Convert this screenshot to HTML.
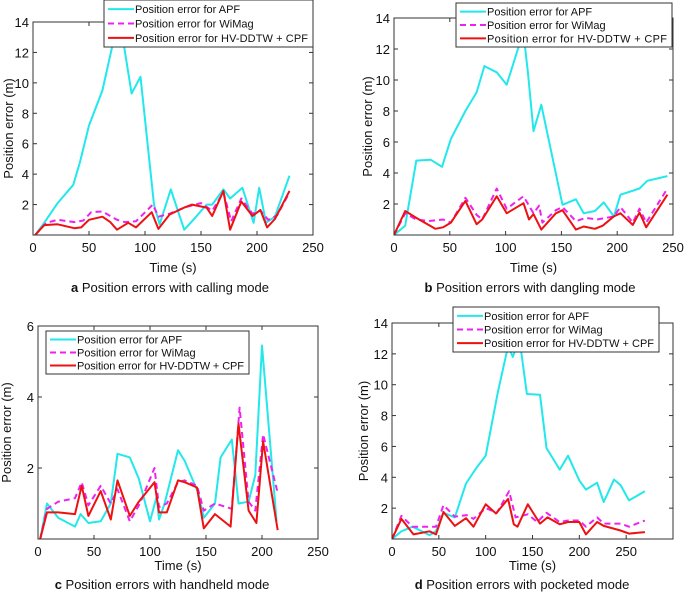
<!DOCTYPE html>
<html><head><meta charset="utf-8"><style>
html,body{margin:0;padding:0;background:#fff;}
svg{display:block;font-family:"Liberation Sans",Arial,sans-serif;}
</style></head><body>
<svg id="fig" width="685" height="593" viewBox="0 0 685 593"></svg>
<script>
const aApfT=[2,10,22,36,42,50,62,75,80,88,96,108,113,123,135,142,155,160,170,176,187,197,202,208,216,229];
const aApfE=[0,0.8,2.1,3.3,4.8,7.2,9.5,13.8,13,9.3,10.4,2,0.7,3,0.35,0.9,2,2,3,2.4,3.1,0.8,3.1,0.8,1.2,3.9];
const aWiT=[2,12,22,37,45,52,62,75,82,92,107,112,122,135,150,160,170,177,186,196,203,210,218,229];
const aWiE=[0,0.8,1,0.85,0.95,1.5,1.55,1,0.85,0.9,2,1.2,1.4,1.8,2.1,1.6,2.8,0.9,2.4,1.4,1.6,1,1.3,2.8];
const aHvT=[2,10,22,37,43,50,62,69,75,85,92,106,112,122,135,142,155,160,170,176,186,196,203,209,216,229];
const aHvE=[0,0.65,0.7,0.45,0.5,1,1.2,0.85,0.35,0.8,0.5,1.5,0.4,1.35,1.8,2,1.8,1.25,2.9,0.35,2.2,1.25,1.65,0.5,1.05,2.9];

const bApfT=[0,10,20,33,43,51,64,74,81,92,101,111,116,120,125,132,151,163,170,180,188,197,203,220,227,245];
const bApfE=[0,0.6,4.8,4.85,4.4,6.2,8,9.2,10.9,10.5,9.7,12,13,10.5,6.7,8.4,1.95,2.3,1.4,1.55,2.1,1.2,2.6,3,3.5,3.8];
const bWiT=[0,10,20,31,44,51,64,74,79,92,101,116,125,130,133,145,151,163,172,182,197,203,214,220,226,245];
const bWiE=[0,1.4,1,0.9,1,0.8,2.4,1.3,1,3,1.7,2.5,1.4,1.9,0.8,1.6,1.8,0.9,1.1,1,1.2,1.8,0.8,1.7,0.8,3];
const bHvT=[0,10,20,37,44,51,64,74,79,92,101,116,121,125,132,145,151,163,170,180,187,197,203,214,220,226,245];
const bHvE=[0,1.55,1.1,0.4,0.5,0.8,2.2,0.7,1,2.5,1.4,2.05,1,1.35,0.35,1.4,1.6,0.35,0.55,0.4,0.6,1.2,1.4,0.65,1.45,0.5,2.6];

const cApfT=[2,8,18,33,38,45,56,65,71,82,90,100,106,108,113,125,131,143,148,158,163,173,179,188,194,200,213];
const cApfE=[0,1,0.6,0.35,0.7,0.45,0.5,1,2.4,2.3,1.7,0.5,1.2,0.55,1,2.5,2.2,1.3,0.6,1,2.3,2.8,1,1.05,1.8,5.45,0.5];
const cWiT=[2,8,18,33,39,45,56,65,71,82,91,104,108,115,125,131,142,148,158,173,180,188,194,201,214];
const cWiE=[0,0.85,1.05,1.15,1.6,0.95,1.5,1,1.4,0.5,1,2,0.9,1,1.6,1.65,1.5,0.8,1,0.85,3.7,1.05,0.8,2.95,1.3];
const cHvT=[2,8,18,33,39,45,56,65,71,82,90,104,108,115,125,131,142,148,158,172,179,188,195,201,214];
const cHvE=[0,0.75,0.75,0.7,1.5,0.65,1.35,0.55,1.65,0.65,1.05,1.6,0.75,0.75,1.65,1.6,1.45,0.3,0.7,0.35,3.25,0.8,0.45,2.75,0.25];

const dApfT=[0,10,22,35,40,47,55,67,79,90,100,113,124,129,136,144,158,165,179,188,200,207,219,226,237,244,253,270];
const dApfE=[0,0.5,0.8,0.4,0.25,0.5,1.7,1.4,3.6,4.6,5.4,9.5,12.5,11.8,13,9.4,9.35,5.9,4.5,5.4,3.8,3.2,3.65,2.4,3.85,3.5,2.5,3.1];
const dWiT=[0,10,22,40,47,55,67,80,87,100,112,125,132,145,155,165,179,188,200,207,219,226,244,253,270];
const dWiE=[0,1.5,0.8,0.8,0.8,2.2,1.45,1.55,1.3,2,1.7,3.1,1.4,1.6,1.1,1.7,1.1,1.2,1.2,0.8,1.4,1,1,0.8,1.2];
const dHvT=[0,10,23,40,47,55,67,79,87,100,111,124,130,134,145,158,166,179,188,200,207,219,226,244,253,270];
const dHvE=[0,1.3,0.3,0.5,0.3,1.75,0.85,1.35,0.8,2.25,1.65,2.6,0.95,0.8,2.25,1,1.4,0.95,1.1,1.1,0.3,1.1,0.85,0.55,0.35,0.45];

const ticksX=[0,50,100,150,200,250];
const ticks14=[2,4,6,8,10,12,14];
const ticks6=[2,4,6];
const legendLabels=["Position error for APF","Position error for WiMag","Position error for HV-DDTW + CPF"];

const NS="http://www.w3.org/2000/svg";
const fig=document.getElementById('fig');
function mk(tag,attrs,parent){const e=document.createElementNS(NS,tag);for(const k in attrs)e.setAttribute(k,attrs[k]);(parent||fig).appendChild(e);return e;}

function panel(o){
  const g=mk('g',{});
  
  
  const sx=v=>o.x0+(v-0)/(o.xmax)*(o.x1-o.x0);
  const sy=v=>o.y1-(v/o.ymax)*(o.y1-o.y0);
  const clip=mk('clipPath',{id:'clip-'+o.name},g);
  mk('rect',{x:o.x0,y:o.y0-6,width:o.x1-o.x0,height:o.y1-o.y0+6},clip);
  const series=[[o.apfT,o.apfE,'#22e8ec',null,'apf-line'],[o.wiT,o.wiE,'#ee22ee','6,4','wimag-line'],[o.hvT,o.hvE,'#ee1111',null,'hv-ddtw-cpf-line']];
  series.forEach(s=>{
    const pts=s[0].map((t,i)=>sx(t).toFixed(1)+','+sy(s[1][i]).toFixed(1)).join(' ');
    const p=mk('polyline',{points:pts,fill:'none',stroke:s[2],'stroke-width':2,'clip-path':'url(#clip-'+o.name+')','stroke-linejoin':'round'},g);
    if(s[3])p.setAttribute('stroke-dasharray',s[3]);
    
    
  });
  mk('rect',{x:o.x0,y:o.y0,width:o.x1-o.x0,height:o.y1-o.y0,fill:'none',stroke:'#333','stroke-width':1},g);
  o.xt.forEach(v=>{
    const x=sx(v);
    mk('line',{x1:x,y1:o.y1,x2:x,y2:o.y1-4,stroke:'#333'},g);
    mk('line',{x1:x,y1:o.y0,x2:x,y2:o.y0+4,stroke:'#333'},g);
    const t=mk('text',{x:x,y:o.y1+17,'text-anchor':'middle','font-size':13,fill:'#111'},g);
    t.textContent=v;
    
    
  });
  o.yt.forEach(v=>{
    const y=sy(v);
    mk('line',{x1:o.x0,y1:y,x2:o.x0+4,y2:y,stroke:'#333'},g);
    mk('line',{x1:o.x1,y1:y,x2:o.x1-4,y2:y,stroke:'#333'},g);
    const t=mk('text',{x:o.x0-4,y:y+5,'text-anchor':'end','font-size':13,fill:'#111'},g);
    t.textContent=v;
    
    
  });
  const yl=mk('text',{x:o.ylx,y:(o.y0+o.y1)/2,'text-anchor':'middle','font-size':13,fill:'#111',transform:`rotate(-90 ${o.ylx} ${(o.y0+o.y1)/2})`},g);
  yl.textContent='Position error (m)';
  
  
  const xl=mk('text',{x:(o.x0+o.x1)/2,y:o.y1+o.tOff,'text-anchor':'middle','font-size':13,fill:'#111'},g);
  xl.textContent='Time (s)';
  
  
  const cap=mk('text',{x:o.capx,y:o.y1+o.cOff,'text-anchor':'middle','font-size':13,fill:'#111'},g);
  const b=mk('tspan',{'font-weight':'bold'},cap);b.textContent=o.letter+' ';
  const r=mk('tspan',{},cap);r.textContent=o.caption;
  
  
  const lg=mk('g',{},g);
  
  
  mk('rect',{x:o.lx,y:o.ly,width:o.lw,height:o.lh,fill:'#fff',stroke:'#333'},lg);
  const rowH=(o.lh-4)/3;
  series.forEach((s,i)=>{
    const y=o.ly+2+rowH*(i+0.5);
    const l=mk('line',{x1:o.lx+4,y1:y,x2:o.lx+30,y2:y,stroke:s[2],'stroke-width':2},lg);
    if(s[3])l.setAttribute('stroke-dasharray','6,4');
    const t=mk('text',{x:o.lx+31,y:y+4,'font-size':11,fill:'#111',textLength:(i==2?o.lw-36:null)},lg);
    if(i!=2)t.removeAttribute('textLength');
    t.textContent=legendLabels[i];
    
    
  });
}
panel({name:'panel-a-calling',x0:33,x1:313,y0:22,y1:235,xmax:250,ymax:14,xt:ticksX,yt:ticks14,ylx:13,capx:170,letter:'a',caption:'Position errors with calling mode',tOff:37,cOff:57,
  apfT:aApfT,apfE:aApfE,wiT:aWiT,wiE:aWiE,hvT:aHvT,hvE:aHvE,lx:104,ly:0,lw:209,lh:47});
panel({name:'panel-b-dangling',x0:394,x1:673,y0:18,y1:235,xmax:250,ymax:14,xt:ticksX,yt:ticks14,ylx:372,capx:530,letter:'b',caption:'Position errors with dangling mode',tOff:37,cOff:57,
  apfT:bApfT,apfE:bApfE,wiT:bWiT,wiE:bWiE,hvT:bHvT,hvE:bHvE,lx:456,ly:3,lw:216,lh:44});
panel({name:'panel-c-handheld',x0:38,x1:318,y0:326,y1:539,xmax:250,ymax:6,xt:ticksX,yt:ticks6,ylx:11,capx:162,letter:'c',caption:'Position errors with handheld mode',tOff:31,cOff:50,
  apfT:cApfT,apfE:cApfE,wiT:cWiT,wiE:cWiE,hvT:cHvT,hvE:cHvE,lx:46,ly:331,lw:203,lh:43});
panel({name:'panel-d-pocketed',x0:392,x1:673,y0:323,y1:539,xmax:300,ymax:14,xt:ticksX,yt:ticks14,ylx:368,capx:522,letter:'d',caption:'Position errors with pocketed mode',tOff:31,cOff:50,
  apfT:dApfT,apfE:dApfE,wiT:dWiT,wiE:dWiE,hvT:dHvT,hvE:dHvE,lx:453,ly:307,lw:206,lh:45});
</script>
</body></html>
